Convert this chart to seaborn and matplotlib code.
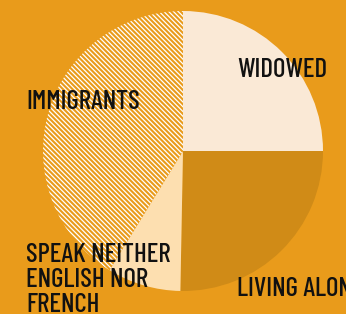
import matplotlib
matplotlib.use("Agg")

import matplotlib.pyplot as plt
import seaborn as sns

# data (clockwise from 12 o'clock)
categories = ["WIDOWED", "LIVING ALONE", "SPEAK NEITHER\nENGLISH NOR\nFRENCH", "IMMIGRANTS"]
shares = [25.0, 25.3, 8.5, 41.2]

BG = "#E99B1B"
slice_colors = ["#FAE9D6", "#D08B17", "#FDDFB0", BG]
hatches = [None, None, None, "\\" * 7]

sns.set_theme(style="white")
plt.rcParams["font.family"] = ["Barlow Condensed", "DejaVu Sans"]
plt.rcParams["hatch.linewidth"] = 0.9

W, H = 346, 314
fig = plt.figure(figsize=(W / 100, H / 100), dpi=100, facecolor=BG)

# pie centre (183, 151) px, radius 140 px
cx, cy, r = 183, 151, 140
ax = fig.add_axes([(cx - r) / W, (H - cy - r) / H, 2 * r / W, 2 * r / H])
ax.set_facecolor(BG)

wedges, _ = ax.pie(
    shares,
    colors=slice_colors,
    startangle=90,
    counterclock=False,
    radius=1,
    wedgeprops={"linewidth": 0},
)
for w, h in zip(wedges, hatches):
    if h:
        w.set_hatch(h)
        w.set_edgecolor("white")
        w.set_linewidth(0)

ax.set_xlim(-1, 1)
ax.set_ylim(-1, 1)
ax.set_aspect("auto")
ax.axis("off")

# labels placed in pixel positions (left x, baseline of last line)
label_pos = {
    "WIDOWED": (237, 77),
    "LIVING ALONE": (237, 296),
    "SPEAK NEITHER\nENGLISH NOR\nFRENCH": (26, 312),
    "IMMIGRANTS": (26, 109),
}
for cat in categories:
    x, y = label_pos[cat]
    fig.text(x / W, 1 - y / H, cat, ha="left", va="baseline",
             fontsize=19.5, fontweight="medium", color="#111111",
             linespacing=1.05)

fig.savefig("out.png", dpi=100, facecolor=BG)
